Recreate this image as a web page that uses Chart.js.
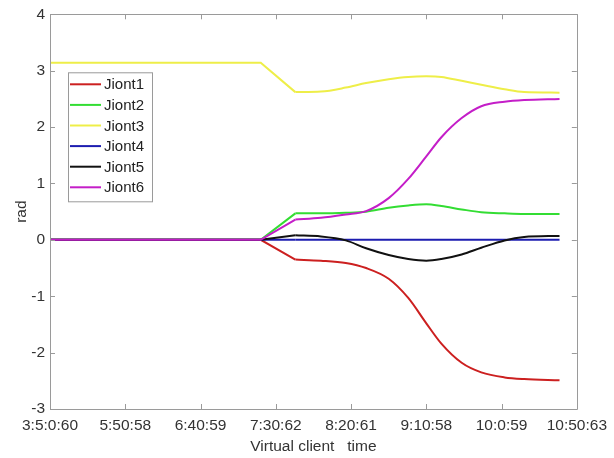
<!DOCTYPE html>
<html>
<head>
<meta charset="utf-8">
<script src="https://cdn.jsdelivr.net/npm/chart.js@4/dist/chart.umd.min.js"></script>
<style>
  html, body { margin: 0; padding: 0; background: #ffffff; }
  #wrap { width: 614px; height: 458px; position: relative; }
</style>
</head>
<body>
<div id="wrap"><canvas id="c" width="614" height="458"></canvas></div>
<script>
// ---- data ----
const xTickLabels = ['3:5:0:60','5:50:58','6:40:59','7:30:62','8:20:61','9:10:58','10:0:59','10:50:63'];
const timeIdx = [0, 2.80, 3.26, 3.60, 3.93, 4.20, 4.50, 4.76, 5.00, 5.20, 5.47, 5.73, 6.04, 6.30, 6.77];
const joint1 = [0, 0, -0.35, -0.37, -0.41, -0.50, -0.69, -1.03, -1.48, -1.84, -2.18, -2.35, -2.44, -2.47, -2.49];
const joint2 = [0, 0, 0.47, 0.47, 0.48, 0.50, 0.57, 0.61, 0.63, 0.60, 0.54, 0.49, 0.47, 0.46, 0.46];
const joint3 = [3.14, 3.14, 2.62, 2.63, 2.70, 2.78, 2.85, 2.89, 2.90, 2.89, 2.82, 2.75, 2.67, 2.62, 2.61];
const joint4 = [0, 0, 0, 0, 0, 0, 0, 0, 0, 0, 0, 0, 0, 0, 0];
const joint5 = [0, 0, 0.08, 0.06, -0.01, -0.15, -0.27, -0.34, -0.37, -0.34, -0.26, -0.14, -0.01, 0.05, 0.07];
const joint6 = [0, 0, 0.36, 0.39, 0.45, 0.51, 0.74, 1.08, 1.48, 1.82, 2.16, 2.37, 2.45, 2.48, 2.50];
const seriesNames = ['Jiont1','Jiont2','Jiont3','Jiont4','Jiont5','Jiont6'];
const seriesValues = [joint1, joint2, joint3, joint4, joint5, joint6];
const seriesColors = ['#cc2020', '#33dd33', '#eeee48', '#1c1cb0', '#111111', '#c41ec8'];
// index of the second corner: straight ramp before it, smooth motion after it
const rampEnd = 2;

const FONT = "'Liberation Sans', Arial, sans-serif";
const AXIS_COLOR = '#9a9a9a';
const TEXT_COLOR = '#333333';

const datasets = [];
seriesNames.forEach((name, i) => {
  const pts = timeIdx.map((t, k) => ({ x: t, y: seriesValues[i][k] }));
  const common = {
    label: name,
    borderColor: seriesColors[i],
    backgroundColor: seriesColors[i],
    borderWidth: 2,
    pointRadius: 0,
    fill: false,
    order: 6 - i
  };
  // straight hold + ramp
  datasets.push(Object.assign({}, common, { data: pts.slice(0, rampEnd + 1), tension: 0 }));
  // smooth trajectory
  datasets.push(Object.assign({}, common, { data: pts.slice(rampEnd), cubicInterpolationMode: 'monotone' }));
});

// inner ticks + box (MATLAB style)
const boxPlugin = {
  id: 'boxPlugin',
  afterDatasetsDraw(chart) {
    const { ctx, chartArea: a, scales: { x, y } } = chart;
    ctx.save();
    ctx.strokeStyle = AXIS_COLOR;
    ctx.lineWidth = 1;
    ctx.beginPath();
    ctx.rect(Math.round(a.left) + 0.5, Math.round(a.top) + 0.5, Math.round(a.right - a.left), Math.round(a.bottom - a.top));
    ctx.stroke();
    const L = 5;
    ctx.beginPath();
    x.ticks.forEach(t => {
      const px = Math.round(x.getPixelForValue(t.value)) + 0.5;
      ctx.moveTo(px, a.bottom); ctx.lineTo(px, a.bottom - L);
      ctx.moveTo(px, a.top); ctx.lineTo(px, a.top + L);
    });
    y.ticks.forEach(t => {
      const py = Math.round(y.getPixelForValue(t.value)) + 0.5;
      ctx.moveTo(a.left, py); ctx.lineTo(a.left + L, py);
      ctx.moveTo(a.right, py); ctx.lineTo(a.right - L, py);
    });
    ctx.stroke();
    ctx.restore();
  }
};

// legend box inside the axes
const legendPlugin = {
  id: 'legendBox',
  afterDraw(chart) {
    const { ctx, chartArea: a } = chart;
    const bx = a.left + 18, by = a.top + 58, bw = 84, bh = 129;
    ctx.save();
    ctx.fillStyle = '#ffffff';
    ctx.fillRect(bx, by, bw, bh);
    ctx.strokeStyle = '#9a9a9a';
    ctx.lineWidth = 1;
    ctx.strokeRect(bx + 0.5, by + 0.5, bw, bh);
    ctx.font = '15px ' + FONT;
    ctx.textBaseline = 'middle';
    ctx.textAlign = 'left';
    seriesNames.forEach((name, i) => {
      const cy = by + 12 + i * 20.6;
      ctx.strokeStyle = seriesColors[i];
      ctx.lineWidth = 2;
      ctx.beginPath();
      ctx.moveTo(bx + 2, cy); ctx.lineTo(bx + 33, cy);
      ctx.stroke();
      ctx.fillStyle = '#222222';
      ctx.fillText(name, bx + 36, cy + 1);
    });
    ctx.restore();
  }
};

new Chart(document.getElementById('c'), {
  type: 'line',
  data: { datasets },
  options: {
    responsive: false,
    animation: false,
    devicePixelRatio: 1,
    layout: { padding: { top: 14, right: 35, left: 0, bottom: 0 } },
    plugins: { legend: { display: false }, tooltip: { enabled: false } },
    scales: {
      x: {
        type: 'linear', min: 0, max: 7,
        afterFit(s) { s.height = 49; },
        ticks: {
          stepSize: 1, autoSkip: false, maxRotation: 0, padding: 7,
          color: TEXT_COLOR, font: { family: FONT, size: 15.5 },
          callback: v => xTickLabels[v]
        },
        grid: { drawOnChartArea: false, drawTicks: false },
        border: { color: AXIS_COLOR },
        title: { display: true, text: 'Virtual client   time', color: TEXT_COLOR,
                 font: { family: FONT, size: 15.5 }, padding: { top: 2, bottom: 2 } }
      },
      y: {
        type: 'linear', min: -3, max: 4,
        afterFit(s) { s.width = 50; },
        ticks: {
          stepSize: 1, padding: 5,
          color: TEXT_COLOR, font: { family: FONT, size: 15.5 }
        },
        grid: { drawOnChartArea: false, drawTicks: false },
        border: { color: AXIS_COLOR },
        title: { display: true, text: 'rad', color: TEXT_COLOR,
                 font: { family: FONT, size: 15.5 }, padding: { top: 12, bottom: 4 } }
      }
    }
  },
  plugins: [boxPlugin, legendPlugin]
});
</script>
</body>
</html>
